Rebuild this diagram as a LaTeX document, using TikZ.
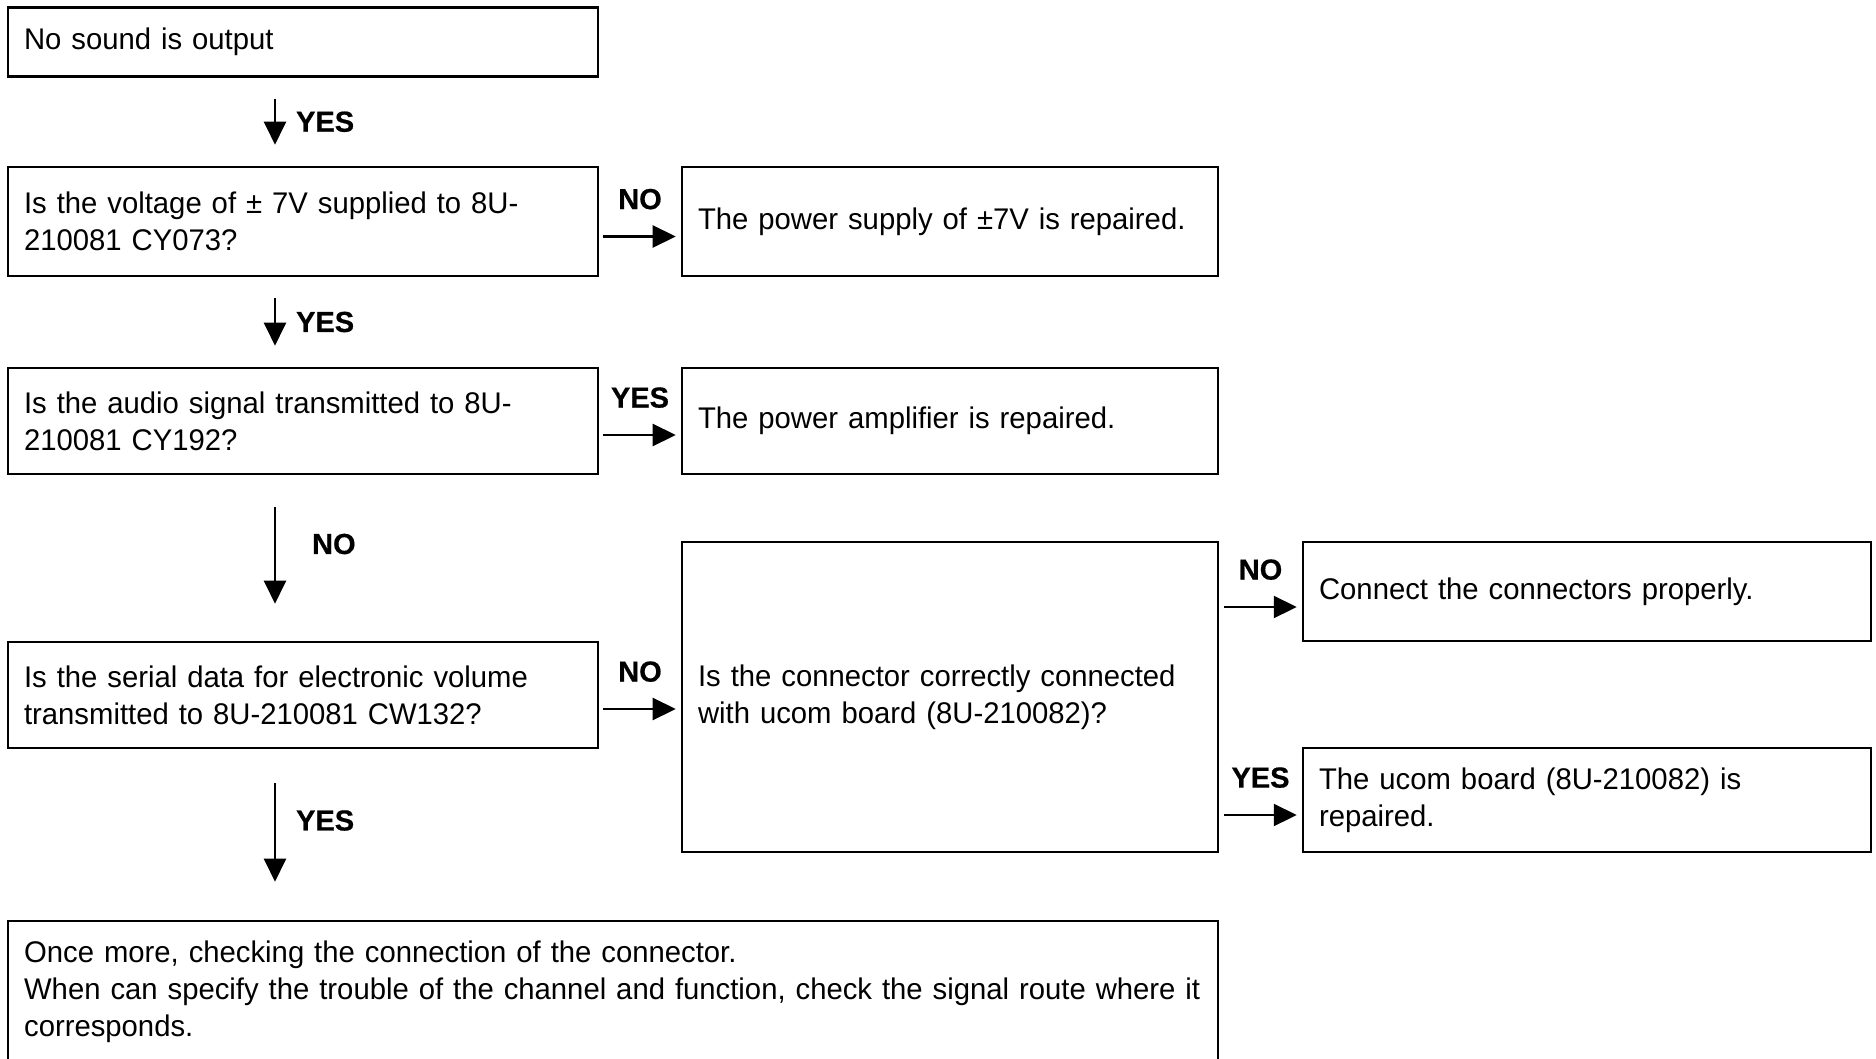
\documentclass[tikz,border=0pt]{standalone}
\usepackage{fontspec}
\setmainfont{Liberation Sans}[FakeStretch=0.98]
\newfontfamily\tagfont{Liberation Sans}[FakeBold=0.6]
\usetikzlibrary{arrows.meta}

\tikzset{
  box/.style={draw, line width=1.5pt, inner xsep=0.32cm, inner ysep=0pt,
    align=left, font=\fontsize{17}{21}\selectfont},
  arr/.style={line width=1.3pt, -{Triangle[length=0.46cm,width=0.44cm]}},
  tag/.style={font=\tagfont\bfseries\fontsize{16.5}{18}\selectfont, inner sep=0pt},
}

\begin{document}
\begin{tikzpicture}[x=0.02cm, y=-0.02cm]
  \useasboundingbox[fill=white] (0,0) rectangle (1876,1058);
  \coordinate (spine) at (275,0);

  \node[box, text width=11.16cm, minimum height=1.38cm] (start) at (303,42) {No sound is output};
  \node[box, text width=11.16cm, minimum height=2.18cm] (volt) at (303,221.5)
    {Is the voltage of ± 7V supplied to 8U-\\210081 CY073?};
  \node[box, text width=10.08cm, minimum height=2.18cm] (fixpower) at (950,221.5)
    {The power supply of ±7V is repaired.};
  \node[box, text width=11.16cm, minimum height=2.12cm] (audio) at (303,421)
    {Is the audio signal transmitted to 8U-\\210081 CY192?};
  \node[box, text width=10.08cm, minimum height=2.12cm] (fixamp) at (950,421)
    {The power amplifier is repaired.};
  \node[box, text width=11.16cm, minimum height=2.12cm] (serial) at (303,695)
    {Is the serial data for electronic volume\\transmitted to 8U-210081 CW132?};
  \node[box, text width=10.08cm, minimum height=6.2cm] (conn) at (950,697)
    {Is the connector correctly connected\\with ucom board (8U-210082)?};
  \node[box, text width=10.72cm, minimum height=1.98cm] (reconn) at (1587,591.5)
    {Connect the connectors properly.};
  \node[box, text width=10.72cm, minimum height=2.08cm] (fixucom) at (1587,800)
    {The ucom board (8U-210082) is\\repaired.};
  \node[box, text width=23.56cm, minimum height=2.82cm] (recheck) at (613,991.5)
    {Once more, checking the connection of the connector.\\
     \mbox{When can specify the trouble of the channel and function, check the signal route where it}\\
     corresponds.};

  \draw[arr, shorten <=0.42cm, shorten >=0.42cm] (start.south -| spine) --
    node[tag, right, xshift=0.4cm] {YES} (volt.north -| spine);
  \draw[arr, shorten <=0.42cm, shorten >=0.42cm] (volt.south -| spine) --
    node[tag, right, xshift=0.4cm] {YES} (audio.north -| spine);
  \draw[arr, shorten <=0.64cm, shorten >=0.74cm] (audio.south -| spine) --
    node[tag, right, xshift=0.72cm, yshift=0.28cm] {NO} (serial.north -| spine);
  \draw[arr, shorten <=0.68cm, shorten >=0.76cm] (serial.south -| spine) --
    node[tag, right, xshift=0.4cm, yshift=0.28cm] {YES} (recheck.north -| spine);

  \draw[arr, shorten <=0.08cm, shorten >=0.1cm] ([yshift=-0.3cm]volt.east) --
    node[tag, above=0.52cm] {NO} ([yshift=-0.3cm]volt.east -| fixpower.west);
  \draw[arr, shorten <=0.08cm, shorten >=0.1cm] ([yshift=-0.28cm]audio.east) --
    node[tag, above=0.52cm] {YES} ([yshift=-0.28cm]audio.east -| fixamp.west);
  \draw[arr, shorten <=0.08cm, shorten >=0.1cm] ([yshift=-0.28cm]serial.east) --
    node[tag, above=0.52cm] {NO} ([yshift=-0.28cm]serial.east -| conn.west);
  \draw[arr, shorten <=0.1cm, shorten >=0.1cm] ([yshift=-0.31cm]reconn.west -| conn.east) --
    node[tag, above=0.52cm] {NO} ([yshift=-0.31cm]reconn.west);
  \draw[arr, shorten <=0.1cm, shorten >=0.1cm] ([yshift=-0.3cm]fixucom.west -| conn.east) --
    node[tag, above=0.52cm] {YES} ([yshift=-0.3cm]fixucom.west);
\end{tikzpicture}
\end{document}
